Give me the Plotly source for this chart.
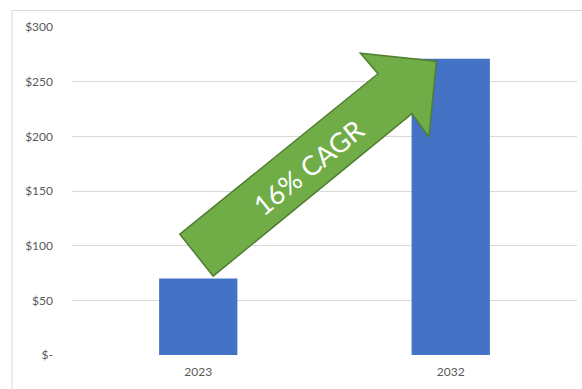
import plotly.graph_objects as go

categories = ["2023", "2032"]
values = [70, 271]
tick_vals = [0, 50, 100, 150, 200, 250, 300]
tick_text = ["$-", "$50", "$100", "$150", "$200", "$250", "$300"]
cagr_label = "16% CAGR"

W, H = 582, 389
L, R, T, B = 72, 4.5, 26.5, 34
pw, ph = W - L - R, H - T - B


def px(x, y):
    return ((x - L) / pw, (H - B - y) / ph)


fig = go.Figure()
fig.add_trace(go.Bar(x=categories, y=values, marker=dict(color="#4472C4", line=dict(width=0)),
                     width=0.31))

# arrow polygon (pixel positions converted to paper coords)
pts = [(180, 234), (213.3, 276), (412.3, 113.3), (429.3, 136.7), (436.7, 60.7),
       (360.7, 52.7), (378.3, 73.3)]
pp = [px(*p) for p in pts]
path = "M " + " L ".join(f"{a:.4f},{b:.4f}" for a, b in pp) + " Z"
fig.add_shape(type="path", path=path, xref="paper", yref="paper",
              fillcolor="#70AD47", line=dict(color="#507E32", width=1.5), layer="above")

tx, ty = px(308, 167)
fig.add_annotation(x=tx, y=ty, xref="paper", yref="paper", text=cagr_label, showarrow=False,
                   textangle=-39, font=dict(family="Lato", size=27, color="white"))

# chart frame
bx0, by0 = px(12, 10)
fig.add_shape(type="rect", xref="paper", yref="paper", x0=bx0, y0=-0.5, x1=1.5, y1=by0,
              line=dict(color="#D9D9D9", width=1), fillcolor="rgba(0,0,0,0)", layer="below")

fig.update_layout(
    width=W, height=H,
    margin=dict(l=L, r=R, t=T, b=B),
    paper_bgcolor="white", plot_bgcolor="white",
    showlegend=False,
    font=dict(family="Lato", size=12, color="#595959"),
    xaxis=dict(showgrid=False, showline=False, ticks="", tickfont=dict(size=12, color="#595959"),
               range=[-0.5, 1.5], ticklabelstandoff=8),
    yaxis=dict(range=[0, 300], tickvals=tick_vals, ticktext=tick_text, showgrid=True,
               gridcolor="#D9D9D9", gridwidth=1, zeroline=False, showline=False, ticks="",
               ticklabelstandoff=18, tickfont=dict(size=12, color="#595959")),
)

fig.write_html("out.html")
